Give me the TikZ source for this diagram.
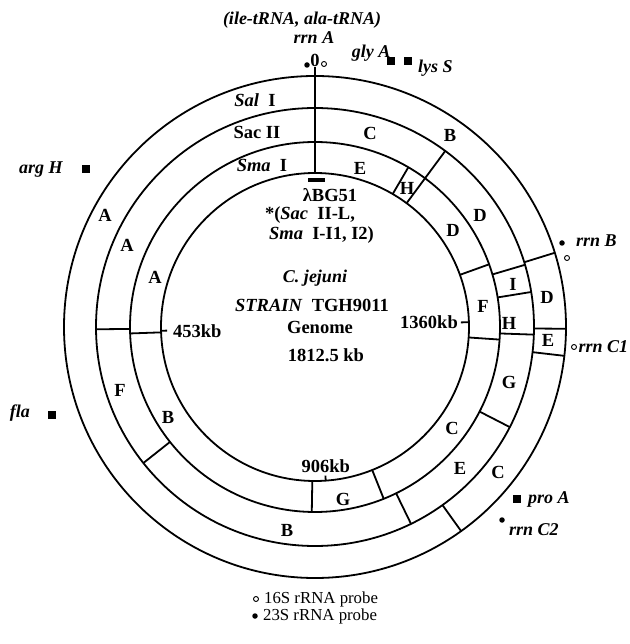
\documentclass[tikz,border=0pt]{standalone}
\usepackage{fontspec}
\setmainfont{Liberation Serif}
\usepackage{tikz}
\usetikzlibrary{positioning}

\begin{document}
\begin{tikzpicture}[x=1pt, y=1pt,
    ring/.style={line width=1.8pt},
    lbl/.style={font=\fontsize{18.5}{20}\selectfont\bfseries, inner sep=1pt},
    itl/.style={font=\fontsize{18}{20}\selectfont\bfseries\itshape, inner sep=1pt},
    leg/.style={font=\fontsize{16.8}{19}\selectfont, inner sep=1pt},
    gene/.style={rectangle, fill, inner sep=0pt, minimum size=7.5pt},
    big/.style={circle, fill, inner sep=0pt, minimum size=5.5pt},
    small/.style={circle, draw, line width=0.9pt, inner sep=0pt, minimum size=5pt}]

    % Frame with the margins of the map
    \useasboundingbox (-315,-317) rectangle (314,327);

    % Four circles bounding the Sal I, Sac II and Sma I rings
    \foreach \r in {154,185,219,251}
        \draw[ring] (0,0) circle (\r);

    % Fragment ends in the Sal I ring
    \foreach \ang in {17.2,-0.4,-6.6,-54.4}
        \draw[ring] (\ang:219) -- (\ang:251);
    % Fragment ends in the Sac II ring
    \foreach \ang in {53.5,16.5,9.2,-2,-27.2,-64,218.4,180.6}
        \draw[ring] (\ang:185) -- (\ang:219);
    % Fragment ends in the Sma I ring
    \foreach \ang in {59.7,53.5,19.8,-3.9,-68.2,-91,182}
        \draw[ring] (\ang:154) -- (\ang:185);
    % Origin line through all rings
    \draw[ring] (90:154) -- (90:260);

    % Ticks on the inner circle
    \draw[ring] (181.4:154) -- (181.4:148);
    \draw[ring] (1.8:154) -- (1.8:146);
    \draw[ring] (-86:154) -- (-86:149);
    \node[lbl, anchor=west] (k453) at (-143,-4) {453kb};
    \node[lbl, anchor=east] (k1360) at (144,5) {1360kb};
    \node[lbl, anchor=south] (k906) at (10.7,-147) {906kb};

    % Ring names
    \node[lbl] (salname) at (-60,227) {\textit{Sal}\ \ I};
    \node[lbl] (sacname) at (-58,195) {Sac II};
    \node[lbl] (smaname) at (-53,162) {\textit{Sma}\ \ I};

    % Sal I fragments
    \node[lbl] (salB) at (135,192) {B};
    \node[lbl] (salD) at (232,30) {D};
    \node[lbl] (salE) at (233,-13) {E};
    \node[lbl] (salC) at (183,-145) {C};
    \node[lbl] (salA) at (-210,112) {A};

    % Sac II fragments
    \node[lbl] (sacC) at (55,194) {C};
    \node[lbl] (sacD) at (165,112) {D};
    \node[lbl] (sacI) at (198,43) {I};
    \node[lbl] (sacH) at (194,4) {H};
    \node[lbl] (sacG) at (194,-55) {G};
    \node[lbl] (sacE) at (145,-141) {E};
    \node[lbl] (sacB) at (-28,-203) {B};
    \node[lbl] (sacF) at (-195,-63) {F};
    \node[lbl] (sacA) at (-188,82) {A};

    % Sma I fragments
    \node[lbl] (smaE) at (45,159) {E};
    \node[lbl] (smaH) at (92,139) {H};
    \node[lbl] (smaD) at (138,97) {D};
    \node[lbl] (smaF) at (168,21) {F};
    \node[lbl] (smaC) at (137,-101) {C};
    \node[lbl] (smaG) at (28,-172) {G};
    \node[lbl] (smaB) at (-147,-90) {B};
    \node[lbl] (smaA) at (-160,50) {A};

    % Lambda clone and centre text
    \node[fill, inner sep=0pt, minimum width=17pt, minimum height=4pt] (bar) at (1.5,147) {};
    \node[lbl] (lam) at (15,132) {λBG51};
    \node[lbl] (sacl) at (-5,112) {*(\textit{Sac}\ \ II-L,};
    \node[lbl] (smal) at (6.5,92) {\textit{Sma}\ \ I-I1,\ I2)};
    \node[itl] (cj) at (0,49) {C. jejuni};
    \node[lbl] (strain) at (-3,22) {\textit{STRAIN}\ \ TGH9011};
    \node[lbl] (genome) at (5,0) {Genome};
    \node[lbl] (size) at (11,-28) {1812.5 kb};

    % Markers at the origin
    \node[itl] (trna) at (-13,307) {(ile-tRNA, ala-tRNA)};
    \node[itl] (rrnA) at (-1,289) {rrn A};
    \node[lbl] (zero) at (0,267) {0};
    \node[big] (rrnAbig) at (-8,262) {};
    \node[small] (rrnAsmall) at (9,263) {};
    \node[itl] (glyA) at (56,274) {gly A};
    \node[gene] (glyAsq) at (76,266) {};
    \node[gene] (lysSsq) at (93,266) {};
    \node[itl, right=5pt of lysSsq, yshift=-7pt] (lysS) {lys S};

    % Markers on the left
    \node[itl] (argH) at (-274,157) {arg H};
    \node[gene] (argHsq) at (-229,158) {};
    \node[itl] (fla) at (-295,-86) {fla};
    \node[gene] (flasq) at (-263,-88) {};

    % Markers on the right
    \node[big] (rrnBbig) at (247,84) {};
    \node[small] (rrnBsmall) at (252,69) {};
    \node[itl, anchor=west] (rrnB) at (260,86) {rrn B};
    \node[small] (rrnC1small) at (259,-20) {};
    \node[itl, right=0.5pt of rrnC1small] (rrnC1) {rrn C1};
    \node[gene] (proAsq) at (202,-172) {};
    \node[itl, right=6pt of proAsq] (proA) {pro A};
    \node[big] (rrnC2big) at (187,-193) {};
    \node[itl, anchor=west] (rrnC2) at (193,-203) {rrn C2};

    % Legend
    \node[small] (o16) at (-59,-272) {};
    \node[leg, right=4pt of o16] (t16) {16S rRNA probe};
    \node[big] (o23) at (-60,-289) {};
    \node[leg, right=4pt of o23] (t23) {23S rRNA probe};
\end{tikzpicture}
\end{document}
